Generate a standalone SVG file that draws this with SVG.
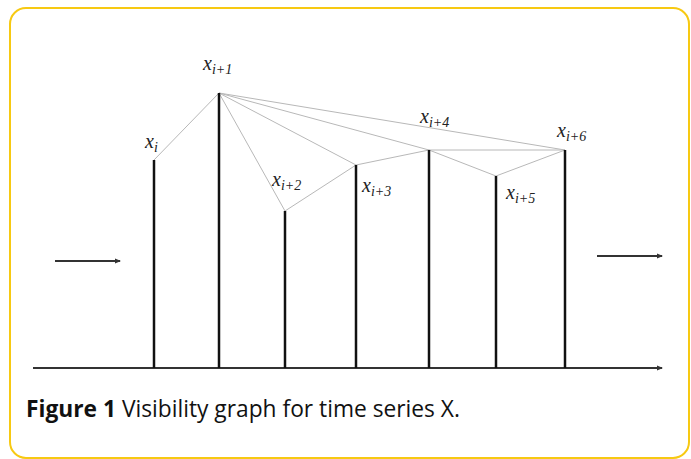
<svg xmlns="http://www.w3.org/2000/svg" width="691" height="459" viewBox="0 0 691 459">
<defs>
<style>
.frame{fill:#fff;stroke:#f7c912;stroke-width:2}
.bar{stroke:#111;stroke-width:2.5}
.edge{stroke:#b8b8b8;stroke-width:1;fill:none}
.axis{stroke:#333;stroke-width:1.8}
.lbl{font-family:"Liberation Serif",serif;font-style:italic;font-size:20px;fill:#222}
.sub{font-size:14px}
.cap{font-family:"Open Sans","Noto Sans",sans-serif;font-size:23px;fill:#111}
</style>
<marker id="ah" markerWidth="6" markerHeight="6" refX="5" refY="3" orient="auto" markerUnits="userSpaceOnUse">
<path d="M0,0.5 L6,3 L0,5.5 z" fill="#333"/>
</marker>
</defs>
<rect class="frame" x="10" y="8" width="679" height="450" rx="16"/>
<g id="connectors">
<line class="edge" x1="154" y1="160" x2="219" y2="93"/>
<line class="edge" x1="219" y1="93" x2="285" y2="211"/>
<line class="edge" x1="219" y1="93" x2="356" y2="165"/>
<line class="edge" x1="219" y1="93" x2="429" y2="150"/>
<line class="edge" x1="219" y1="93" x2="565" y2="150"/>
<line class="edge" x1="285" y1="211" x2="356" y2="165"/>
<line class="edge" x1="356" y1="165" x2="429" y2="150"/>
<line class="edge" x1="429" y1="150" x2="565" y2="150"/>
<line class="edge" x1="429" y1="150" x2="496" y2="176"/>
<line class="edge" x1="496" y1="176" x2="565" y2="150"/>
</g>
<g id="axis">
<line class="axis" x1="33" y1="368" x2="662" y2="368" marker-end="url(#ah)"/>
<line class="axis" x1="55" y1="261" x2="120" y2="261" marker-end="url(#ah)"/>
<line class="axis" x1="597" y1="256" x2="662" y2="256" marker-end="url(#ah)"/>
</g>
<g id="node-xi"><line class="bar" x1="154" y1="160" x2="154" y2="368"/><text class="lbl" x="145" y="148">x<tspan class="sub" dy="4">i</tspan></text></g>
<g id="node-xi1"><line class="bar" x1="219" y1="93" x2="219" y2="368"/><text class="lbl" x="203" y="70">x<tspan class="sub" dy="4">i+1</tspan></text></g>
<g id="node-xi2"><line class="bar" x1="285" y1="211" x2="285" y2="368"/><text class="lbl" x="272" y="186">x<tspan class="sub" dy="4">i+2</tspan></text></g>
<g id="node-xi3"><line class="bar" x1="356" y1="165" x2="356" y2="368"/><text class="lbl" x="362" y="192">x<tspan class="sub" dy="4">i+3</tspan></text></g>
<g id="node-xi4"><line class="bar" x1="429" y1="150" x2="429" y2="368"/><text class="lbl" x="420" y="123">x<tspan class="sub" dy="4">i+4</tspan></text></g>
<g id="node-xi5"><line class="bar" x1="496" y1="176" x2="496" y2="368"/><text class="lbl" x="506" y="199">x<tspan class="sub" dy="4">i+5</tspan></text></g>
<g id="node-xi6"><line class="bar" x1="565" y1="150" x2="565" y2="368"/><text class="lbl" x="557" y="137">x<tspan class="sub" dy="4">i+6</tspan></text></g>
<text class="cap" x="26" y="417" textLength="434" lengthAdjust="spacingAndGlyphs"><tspan font-weight="bold">Figure 1</tspan> Visibility graph for time series X.</text>
</svg>
